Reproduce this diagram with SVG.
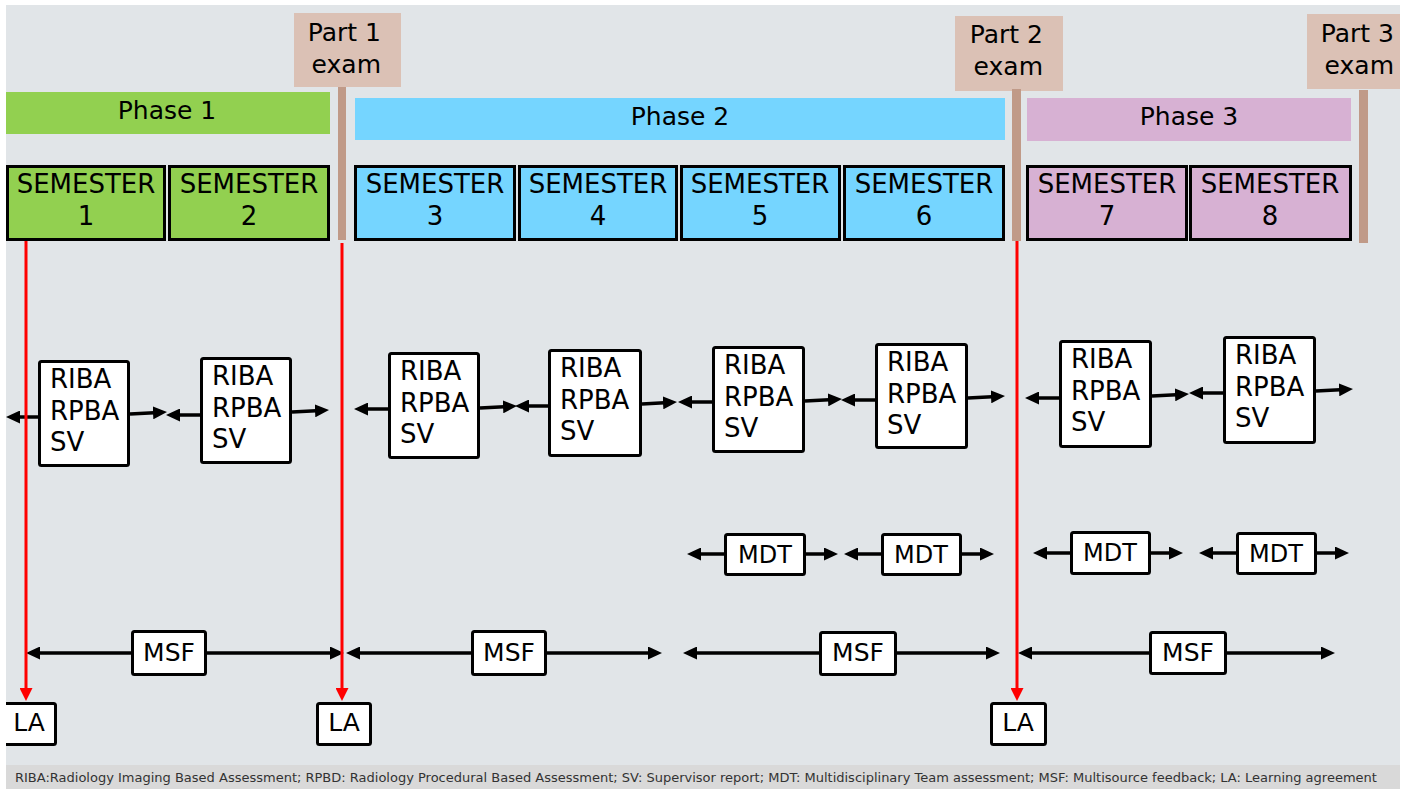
<svg xmlns="http://www.w3.org/2000/svg" width="1407" height="789" viewBox="0 0 1407 789">
<style>
text{font-family:"DejaVu Sans","Liberation Sans",sans-serif;fill:#000}
.t25{font-size:25px}
.t26{font-size:26px}
.t24{font-size:24px}
.mid{text-anchor:middle}
.end{text-anchor:end}
.sem{stroke:#000;stroke-width:3}
.box{fill:#fff;stroke:#000;stroke-width:3}
.exam{fill:#dbc1b5}
.pole{fill:#c09a88}
.arr{stroke:#000;stroke-width:3.5;fill:none;marker-end:url(#ah)}
.red{stroke:#ff0000;stroke-width:3;fill:none;marker-end:url(#rh)}
.cap{font-size:13px;fill:#333}
</style>
<defs>
<marker id="ah" markerUnits="userSpaceOnUse" markerWidth="14" markerHeight="13" refX="6" refY="6.5" orient="auto" viewBox="0 0 14 13">
<path d="M0,0 L14,6.5 L0,13 z" fill="#000"/>
</marker>
<marker id="rh" markerUnits="userSpaceOnUse" markerWidth="13" markerHeight="13" refX="7" refY="6.5" orient="auto" viewBox="0 0 13 13">
<path d="M0,0 L13,6.5 L0,13 z" fill="#ff0000"/>
</marker>
</defs>
<rect x="0" y="0" width="1407" height="789" fill="#ffffff"/>
<rect x="6" y="5" width="1394" height="760" fill="#e1e5e8"/>
<rect x="6" y="765" width="1394" height="24" fill="#d9d9d9"/>

<g id="phase1"><rect x="6" y="92" width="324" height="42" fill="#92d050"/><text class="t25 mid" x="167" y="119">Phase 1</text></g>
<g id="phase2"><rect x="355" y="98" width="650" height="42" fill="#75d5ff"/><text class="t25 mid" x="680" y="125">Phase 2</text></g>
<g id="phase3"><rect x="1027" y="98" width="324" height="43" fill="#d7b1d3"/><text class="t25 mid" x="1189" y="125">Phase 3</text></g>

<g id="exam1"><rect class="exam" x="294" y="13" width="107" height="74"/><rect class="pole" x="338" y="87" width="8" height="153"/><text class="t25 end" x="381" y="41">Part 1</text><text class="t25 end" x="381" y="73">exam</text></g>
<g id="exam2"><rect class="exam" x="955" y="16" width="108" height="75"/><rect class="pole" x="1012" y="89" width="9" height="152"/><text class="t25 end" x="1043" y="43">Part 2</text><text class="t25 end" x="1043" y="75">exam</text></g>
<g id="exam3"><rect class="exam" x="1307" y="14" width="93" height="75"/><rect class="pole" x="1359" y="90" width="9" height="153"/><text class="t25 end" x="1394" y="42">Part 3</text><text class="t25 end" x="1394" y="74">exam</text></g>

<g id="sem1"><rect class="sem" x="7.5" y="166.5" width="157" height="73" fill="#92d050"/><text class="t26 mid" x="86" y="193">SEMESTER</text><text class="t26 mid" x="86" y="225">1</text></g>
<g id="sem2"><rect class="sem" x="169.5" y="166.5" width="159" height="73" fill="#92d050"/><text class="t26 mid" x="249" y="193">SEMESTER</text><text class="t26 mid" x="249" y="225">2</text></g>
<g id="sem3"><rect class="sem" x="355.5" y="166.5" width="159" height="73" fill="#75d5ff"/><text class="t26 mid" x="435" y="193">SEMESTER</text><text class="t26 mid" x="435" y="225">3</text></g>
<g id="sem4"><rect class="sem" x="519.5" y="166.5" width="157" height="73" fill="#75d5ff"/><text class="t26 mid" x="598" y="193">SEMESTER</text><text class="t26 mid" x="598" y="225">4</text></g>
<g id="sem5"><rect class="sem" x="681.5" y="166.5" width="158" height="73" fill="#75d5ff"/><text class="t26 mid" x="760" y="193">SEMESTER</text><text class="t26 mid" x="760" y="225">5</text></g>
<g id="sem6"><rect class="sem" x="844.5" y="166.5" width="159" height="73" fill="#75d5ff"/><text class="t26 mid" x="924" y="193">SEMESTER</text><text class="t26 mid" x="924" y="225">6</text></g>
<g id="sem7"><rect class="sem" x="1027.5" y="166.5" width="159" height="73" fill="#d7b1d3"/><text class="t26 mid" x="1107" y="193">SEMESTER</text><text class="t26 mid" x="1107" y="225">7</text></g>
<g id="sem8"><rect class="sem" x="1190.5" y="166.5" width="160" height="73" fill="#d7b1d3"/><text class="t26 mid" x="1270" y="193">SEMESTER</text><text class="t26 mid" x="1270" y="225">8</text></g>

<g id="connectors">
<line class="arr" x1="38" y1="417" x2="14" y2="417"/>
<line class="arr" x1="130" y1="414" x2="159" y2="412.5"/>
<line class="arr" x1="200" y1="415" x2="174" y2="415"/>
<line class="arr" x1="292" y1="412" x2="321" y2="410.5"/>
<line class="arr" x1="388" y1="409" x2="362" y2="409"/>
<line class="arr" x1="480" y1="408" x2="509" y2="406.5"/>
<line class="arr" x1="548" y1="406" x2="523" y2="406"/>
<line class="arr" x1="642" y1="404" x2="669" y2="402.5"/>
<line class="arr" x1="712" y1="402" x2="686" y2="402"/>
<line class="arr" x1="805" y1="401" x2="834" y2="399.5"/>
<line class="arr" x1="875" y1="400" x2="849" y2="400"/>
<line class="arr" x1="968" y1="398" x2="997" y2="396.5"/>
<line class="arr" x1="1059" y1="398" x2="1033" y2="398"/>
<line class="arr" x1="1152" y1="396" x2="1181" y2="394.5"/>
<line class="arr" x1="1223" y1="393" x2="1197" y2="393"/>
<line class="arr" x1="1316" y1="391" x2="1345" y2="389.5"/>

<line class="arr" x1="724" y1="554" x2="695" y2="554"/>
<line class="arr" x1="806" y1="554" x2="830" y2="554"/>
<line class="arr" x1="881" y1="554" x2="852" y2="554"/>
<line class="arr" x1="962" y1="554" x2="986" y2="554"/>
<line class="arr" x1="1070" y1="553" x2="1041" y2="553"/>
<line class="arr" x1="1151" y1="553" x2="1175" y2="553"/>
<line class="arr" x1="1236" y1="553" x2="1207" y2="553"/>
<line class="arr" x1="1317" y1="553" x2="1341" y2="553"/>

<line class="arr" x1="131" y1="653" x2="34" y2="653"/>
<line class="arr" x1="207" y1="653" x2="336" y2="653"/>
<line class="arr" x1="471" y1="653" x2="354" y2="653"/>
<line class="arr" x1="547" y1="653" x2="654" y2="653"/>
<line class="arr" x1="819" y1="653" x2="691" y2="653"/>
<line class="arr" x1="897" y1="653" x2="992" y2="653"/>
<line class="arr" x1="1149" y1="653" x2="1026" y2="653"/>
<line class="arr" x1="1227" y1="653" x2="1327" y2="653"/>

<line class="red" x1="26" y1="241" x2="26" y2="695"/>
<line class="red" x1="342" y1="243" x2="342" y2="695"/>
<line class="red" x1="1017" y1="241" x2="1017" y2="695"/>
</g>

<g id="riba1"><rect class="box" x="39.5" y="361.5" width="89" height="104" rx="2"/><text class="t26" x="50" y="388">RIBA</text><text class="t26" x="50" y="420">RPBA</text><text class="t26" x="50" y="451">SV</text></g>
<g id="riba2"><rect class="box" x="201.5" y="358.5" width="89" height="104" rx="2"/><text class="t26" x="212" y="385">RIBA</text><text class="t26" x="212" y="417">RPBA</text><text class="t26" x="212" y="448">SV</text></g>
<g id="riba3"><rect class="box" x="389.5" y="353.5" width="89" height="104" rx="2"/><text class="t26" x="400" y="380">RIBA</text><text class="t26" x="400" y="412">RPBA</text><text class="t26" x="400" y="443">SV</text></g>
<g id="riba4"><rect class="box" x="549.5" y="350.5" width="91" height="105" rx="2"/><text class="t26" x="560" y="377">RIBA</text><text class="t26" x="560" y="409">RPBA</text><text class="t26" x="560" y="440">SV</text></g>
<g id="riba5"><rect class="box" x="713.5" y="347.5" width="90" height="104" rx="2"/><text class="t26" x="724" y="374">RIBA</text><text class="t26" x="724" y="406">RPBA</text><text class="t26" x="724" y="437">SV</text></g>
<g id="riba6"><rect class="box" x="876.5" y="344.5" width="90" height="103" rx="2"/><text class="t26" x="887" y="371">RIBA</text><text class="t26" x="887" y="403">RPBA</text><text class="t26" x="887" y="434">SV</text></g>
<g id="riba7"><rect class="box" x="1060.5" y="341.5" width="90" height="105" rx="2"/><text class="t26" x="1071" y="368">RIBA</text><text class="t26" x="1071" y="400">RPBA</text><text class="t26" x="1071" y="431">SV</text></g>
<g id="riba8"><rect class="box" x="1224.5" y="337.5" width="90" height="105" rx="2"/><text class="t26" x="1235" y="364">RIBA</text><text class="t26" x="1235" y="396">RPBA</text><text class="t26" x="1235" y="427">SV</text></g>

<g id="mdt1"><rect class="box" x="725.5" y="534.5" width="79" height="40" rx="2"/><text class="t24 mid" x="765" y="563">MDT</text></g>
<g id="mdt2"><rect class="box" x="882.5" y="534.5" width="78" height="40" rx="2"/><text class="t24 mid" x="921" y="563">MDT</text></g>
<g id="mdt3"><rect class="box" x="1071.5" y="532.5" width="78" height="41" rx="2"/><text class="t24 mid" x="1110" y="561">MDT</text></g>
<g id="mdt4"><rect class="box" x="1237.5" y="533.5" width="78" height="40" rx="2"/><text class="t24 mid" x="1276" y="562">MDT</text></g>

<g id="msf1"><rect class="box" x="132.5" y="631.5" width="73" height="43" rx="2"/><text class="t25 mid" x="169" y="661">MSF</text></g>
<g id="msf2"><rect class="box" x="472.5" y="631.5" width="73" height="43" rx="2"/><text class="t25 mid" x="509" y="661">MSF</text></g>
<g id="msf3"><rect class="box" x="820.5" y="632.5" width="75" height="42" rx="2"/><text class="t25 mid" x="858" y="661">MSF</text></g>
<g id="msf4"><rect class="box" x="1150.5" y="632.5" width="75" height="41" rx="2"/><text class="t25 mid" x="1188" y="661">MSF</text></g>

<g id="la1"><rect class="box" x="-4" y="703.5" width="59.5" height="41" rx="2"/><text class="t25 mid" x="29" y="731">LA</text></g>
<g id="la2"><rect class="box" x="317.5" y="703.5" width="53" height="41" rx="2"/><text class="t25 mid" x="344" y="731">LA</text></g>
<g id="la3"><rect class="box" x="991.5" y="703.5" width="54" height="41" rx="2"/><text class="t25 mid" x="1018" y="731">LA</text></g>

<text class="cap" x="15" y="782">RIBA:Radiology Imaging Based Assessment; RPBD: Radiology Procedural Based Assessment; SV: Supervisor report; MDT: Multidisciplinary Team assessment; MSF: Multisource feedback; LA: Learning agreement</text>
<rect x="0" y="0" width="6" height="789" fill="#ffffff"/>
</svg>
